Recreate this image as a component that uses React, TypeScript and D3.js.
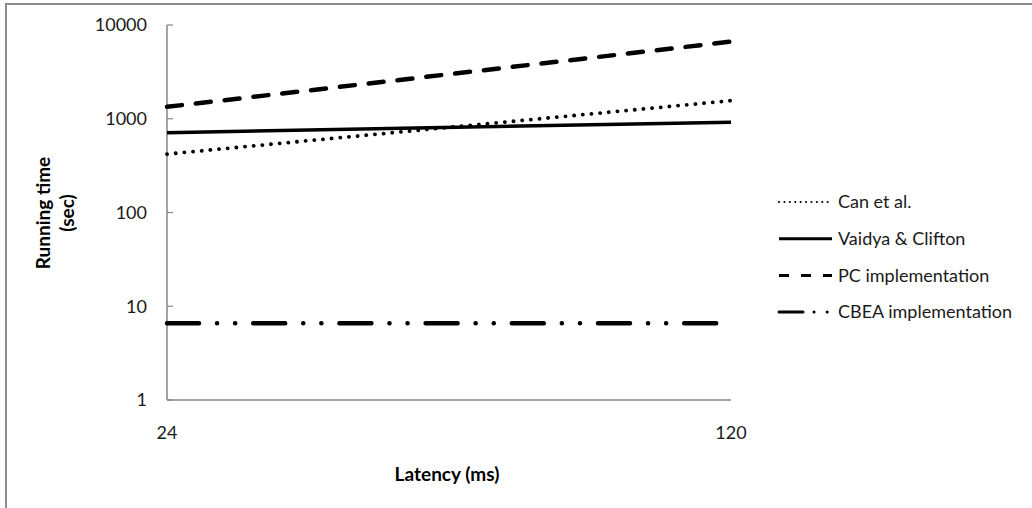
import React from "react";
import * as d3 from "d3";

const latencies = ["24", "120"];
const canEtAl = [420, 1560];
const vaidyaClifton = [710, 920];
const pcImpl = [1340, 6650];
const cbeaImpl = [6.6, 6.6];
const yTicks = [1, 10, 100, 1000, 10000];

const seriesNames = ["Can et al.", "Vaidya & Clifton", "PC implementation", "CBEA implementation"];
const seriesValues = [canEtAl, vaidyaClifton, pcImpl, cbeaImpl];

const plotStyles = [
  { width: 3.8, dash: "0.1 8.6", cap: "round" },
  { width: 3.5, dash: "none", cap: "butt" },
  { width: 4.5, dash: "15 14", cap: "round" },
  { width: 4.5, dash: "32 18 0.1 18 0.1 18", cap: "round" },
];
const legendStyles = [
  { width: 2, dash: "0.1 5.3", cap: "round" },
  { width: 3, dash: "none", cap: "butt" },
  { width: 3, dash: "10 12", cap: "butt" },
  { width: 3, dash: "24 11 0.1 13 0.1 20", cap: "round" },
];

const W = 1032;
const H = 508;
const left = 167;
const right = 731;
const top = 25;
const bottom = 400;
const font = "Lato, 'Open Sans', sans-serif";
const axisColor = "#868686";

export default function App() {
  const x = d3.scalePoint<string>().domain(latencies).range([left, right]);
  const y = d3.scaleLog().domain([1, 10000]).range([bottom, top]);
  const line = d3
    .line<number>()
    .x((_, i) => x(latencies[i]) as number)
    .y((d) => y(d));

  return (
    <svg width={W} height={H} style={{ position: "absolute", left: 0, top: 0, background: "#fff" }}>
      <rect x={0} y={0} width={W} height={H} fill="#fff" />
      {/* outer frame */}
      <path d={`M6,${H} V4 H${W}`} fill="none" stroke="#8c8c8c" strokeWidth={2} />

      {/* axes */}
      <line x1={left} x2={left} y1={top} y2={bottom} stroke={axisColor} strokeWidth={1.5} />
      <line x1={left} x2={right} y1={bottom} y2={bottom} stroke={axisColor} strokeWidth={1.5} />
      {yTicks.map((t) => (
        <g key={t}>
          <line x1={left} x2={left + 6} y1={y(t)} y2={y(t)} stroke={axisColor} strokeWidth={1.2} />
          <text x={147} y={y(t)} dy="0.35em" textAnchor="end" fontFamily={font} fontSize={18} fill="#1a1a1a">
            {t}
          </text>
        </g>
      ))}
      {latencies.map((l) => (
        <text key={l} x={x(l)} y={433} dy="0.35em" textAnchor="middle" fontFamily={font} fontSize={18} fill="#1a1a1a">
          {l}
        </text>
      ))}

      {/* series */}
      {seriesValues.map((vals, i) => (
        <path
          key={seriesNames[i]}
          d={line(vals) || ""}
          fill="none"
          stroke="#000"
          strokeWidth={plotStyles[i].width}
          strokeDasharray={plotStyles[i].dash}
          strokeLinecap={plotStyles[i].cap as any}
        />
      ))}

      {/* axis titles */}
      <text x={447} y={474} dy="0.35em" textAnchor="middle" fontFamily={font} fontSize={19} fontWeight="bold" fill="#000">
        Latency (ms)
      </text>
      <text transform="translate(43,213) rotate(-90)" textAnchor="middle" dy="0.35em" fontFamily={font} fontSize={19} fontWeight="bold" fill="#000">
        Running time
      </text>
      <text transform="translate(67,213) rotate(-90)" textAnchor="middle" dy="0.35em" fontFamily={font} fontSize={19} fontWeight="bold" fill="#000">
        (sec)
      </text>

      {/* legend */}
      {seriesNames.map((name, i) => {
        const ly = 202 + i * 36.7;
        return (
          <g key={name}>
            <line
              x1={779}
              x2={832}
              y1={ly}
              y2={ly}
              stroke="#000"
              strokeWidth={legendStyles[i].width}
              strokeDasharray={legendStyles[i].dash}
              strokeLinecap={legendStyles[i].cap as any}
            />
            <text x={838} y={ly} dy="0.35em" fontFamily={font} fontSize={18} fill="#1a1a1a">
              {name}
            </text>
          </g>
        );
      })}
    </svg>
  );
}
